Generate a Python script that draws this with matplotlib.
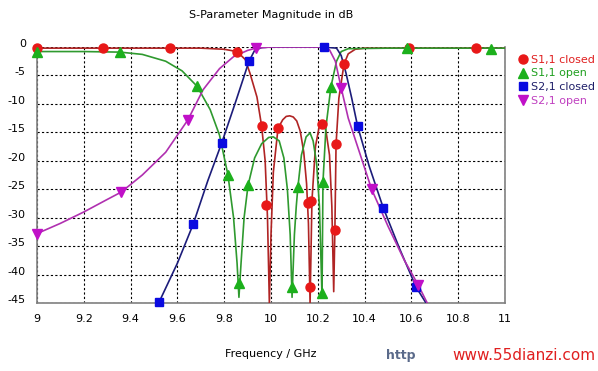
import numpy as np
import matplotlib.pyplot as plt
from matplotlib.lines import Line2D
import matplotlib.transforms as mtransforms

# curves (GHz, dB)
s11_closed_f = [9.0, 9.3, 9.6, 9.7, 9.8, 9.855, 9.89, 9.91, 9.94, 9.96, 9.975, 9.985, 9.993,
                10.0, 10.01, 10.03, 10.05, 10.065, 10.08, 10.095, 10.11, 10.125, 10.14, 10.152,
                10.16, 10.167, 10.175, 10.19, 10.205, 10.215, 10.225, 10.235, 10.25, 10.26,
                10.268, 10.273, 10.278, 10.29, 10.312, 10.33, 10.36, 10.4, 10.7, 11.0]
s11_closed_db = [-0.2, -0.2, -0.2, -0.2, -0.4, -0.8, -2.2, -4.6, -8.8, -13.9, -20, -30, -45,
                 -33, -22, -14.3, -12.8, -12.2, -12.1, -12.3, -13.0, -14.8, -18.5, -24,
                 -31, -45, -27, -17.5, -14.2, -13.2, -13.4, -14.8, -19, -28,
                 -43, -32.2, -17.1, -9, -3.0, -1.2, -0.4, -0.2, -0.2, -0.2]

s11_open_f = [9.0, 9.2, 9.355, 9.45, 9.55, 9.62, 9.684, 9.74, 9.78, 9.816, 9.84, 9.855, 9.863,
              9.872, 9.885, 9.902, 9.93, 9.96, 9.99, 10.01, 10.035, 10.055, 10.07, 10.082, 10.09,
              10.1, 10.108, 10.115, 10.13, 10.15, 10.167, 10.18, 10.195, 10.207, 10.214, 10.218,
              10.222, 10.235, 10.256, 10.28, 10.3, 10.33, 10.5, 11.0]
s11_open_db = [-0.8, -0.8, -0.9, -1.3, -2.5, -4.2, -6.9, -11, -15.5, -22.5, -30, -38, -44,
               -38, -30, -24.3, -19.5, -17, -15.9, -15.8, -16.5, -19.5, -25, -33, -44,
               -33, -28, -24.6, -19, -15.8, -15.1, -16.5, -20.5, -28, -38, -44,
               -23.8, -14, -7.0, -2.5, -0.8, -0.3, -0.2, -0.2]

s21_closed_f = [9.52, 9.6, 9.667, 9.73, 9.79, 9.85, 9.906, 9.93, 9.96, 10.0, 10.226, 10.28,
                10.30, 10.32, 10.345, 10.37, 10.42, 10.48, 10.55, 10.62, 10.67]
s21_closed_db = [-45, -38, -31.2, -23.5, -16.8, -9.5, -2.5, -0.6, -0.1, 0, 0, -0.2,
                 -1.5, -4.5, -9, -13.9, -21, -28.3, -35.5, -42.2, -45.5]

s21_open_f = [9.0, 9.1, 9.2, 9.3, 9.36, 9.45, 9.55, 9.645, 9.71, 9.78, 9.84, 9.9, 9.935,
              10.0, 10.22, 10.25, 10.275, 10.30, 10.33, 10.37, 10.43, 10.5, 10.57, 10.63, 10.67]
s21_open_db = [-32.8, -31.0, -29.0, -26.8, -25.5, -22.5, -18.5, -12.8, -7.5, -3.8, -1.7, -0.6, -0.2,
               0, 0, -0.5, -2.5, -7.2, -12.5, -17.5, -25, -31.5, -37.5, -41.9, -45.2]

# marker positions
s11_closed_mf = [9.0, 9.28, 9.57, 9.855, 9.96, 9.98, 10.03, 10.16, 10.172, 10.167, 10.218,
                 10.273, 10.278, 10.312, 10.59, 10.876]
s11_closed_mdb = [-0.2, -0.2, -0.2, -0.8, -13.9, -27.8, -14.3, -27.5, -27.0, -42.2, -13.6,
                  -32.2, -17.1, -3.0, -0.2, -0.2]
s11_open_mf = [9.0, 9.355, 9.684, 9.816, 9.863, 9.902, 10.09, 10.115, 10.218, 10.222, 10.256,
               10.58, 10.94]
s11_open_mdb = [-0.8, -0.9, -6.9, -22.5, -41.5, -24.3, -42.2, -24.6, -43.3, -23.8, -7.0, -0.2, -0.3]
s21_closed_mf = [9.52, 9.667, 9.79, 9.906, 10.226, 10.37, 10.48, 10.62]
s21_closed_mdb = [-44.9, -31.2, -16.8, -2.5, 0, -13.9, -28.3, -42.2]
s21_open_mf = [9.0, 9.36, 9.645, 9.935, 10.30, 10.43, 10.63]
s21_open_mdb = [-32.8, -25.5, -12.8, -0.2, -7.2, -25, -41.9]

labels = ['S1,1 closed', 'S1,1 open', 'S2,1 closed', 'S2,1 open']

plt.rcParams['font.family'] = 'DejaVu Sans'
fig = plt.figure(figsize=(5.98, 3.71), dpi=100)
ax = fig.add_axes([37 / 598, 1 - 303 / 371, 468 / 598, 256 / 371])

series = [
    (s11_closed_f, s11_closed_db, s11_closed_mf, s11_closed_mdb, '#b02424', '#e81818', 'o', 6.5),
    (s11_open_f, s11_open_db, s11_open_mf, s11_open_mdb, '#2f9a2f', '#1cb01c', '^', 7),
    (s21_closed_f, s21_closed_db, s21_closed_mf, s21_closed_mdb, '#1c1c7a', '#0a0ae0', 's', 6),
    (s21_open_f, s21_open_db, s21_open_mf, s21_open_mdb, '#b030b0', '#c010c8', 'v', 7),
]
handles = []
for f, db, mf, mdb, lc, mc, mk, ms in series:
    ax.plot(f, db, color=lc, lw=1.2, zorder=3)
    ax.plot(mf, mdb, linestyle='none', marker=mk, ms=ms, color=mc, zorder=4, clip_on=False)
    handles.append(Line2D([], [], linestyle='none', marker=mk, ms=ms, color=mc))

ax.set_xlim(9, 11)
ax.set_ylim(-45, 0)
ax.set_xticks(np.arange(9, 11.01, 0.2))
ax.set_xticklabels(['9', '9.2', '9.4', '9.6', '9.8', '10', '10.2', '10.4', '10.6', '10.8', '11'])
ax.set_yticks(np.arange(0, -45.1, -5))
ax.set_yticklabels([str(v) for v in range(0, -46, -5)])
ax.tick_params(length=0, labelsize=8, pad=8)
ax.grid(True, color='black', linestyle=(0, (2, 2)), lw=0.8)
ax.set_axisbelow(True)
for side in ['left', 'bottom', 'right']:
    ax.spines[side].set_color('#808080')
    ax.spines[side].set_linewidth(1.2)
ax.spines['top'].set_visible(False)

# labels sit a little above their gridlines in the original
off = mtransforms.ScaledTranslation(0, 4 / 100, fig.dpi_scale_trans)
for lab in ax.get_yticklabels():
    lab.set_transform(lab.get_transform() + off)

fig.text(271 / 598, 1 - 15 / 371, 'S-Parameter Magnitude in dB', ha='center', va='center', fontsize=8)
fig.text(271 / 598, 1 - 354 / 371, 'Frequency / GHz', ha='center', va='center', fontsize=8)

leg = fig.legend(handles, labels, loc='upper left', bbox_to_anchor=(514 / 598, 1 - 49 / 371),
                 frameon=False, handlelength=0.6, handletextpad=0.4, labelspacing=0.35,
                 fontsize=8, borderpad=0)
for txt, c in zip(leg.get_texts(), ['#e02020', '#20a020', '#20206a', '#c040c0']):
    txt.set_color(c)

fig.text(386 / 598, 1 - 356 / 371, 'http', ha='left', va='center', fontsize=9,
         fontweight='bold', color='#5a6a8a')
fig.text(595 / 598, 1 - 356 / 371, 'www.55dianzi.com', ha='right', va='center', fontsize=11,
         color='#e02020')

fig.savefig('out.png', dpi=100)
